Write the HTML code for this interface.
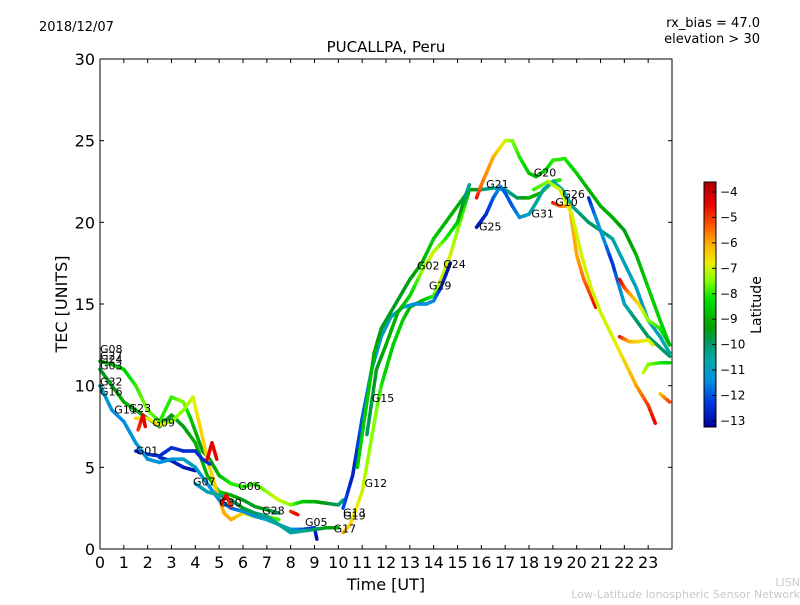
<!DOCTYPE html>
<html><head><meta charset="utf-8"><style>
body{margin:0;background:#fff;width:800px;height:600px;overflow:hidden;font-family:"Liberation Sans","DejaVu Sans",sans-serif}
svg text{font-family:"DejaVu Sans","Liberation Sans",sans-serif}
</style></head><body>
<svg id="chart" width="800" height="600" xmlns="http://www.w3.org/2000/svg">
<defs>
<linearGradient id="cbg" x1="0" y1="0" x2="0" y2="1">
<stop offset="0" stop-color="#a80000"/><stop offset="0.09" stop-color="#e80000"/><stop offset="0.18" stop-color="#ff5a00"/><stop offset="0.25" stop-color="#ffaa00"/><stop offset="0.33" stop-color="#eeee00"/><stop offset="0.40" stop-color="#88ff00"/><stop offset="0.48" stop-color="#00e000"/><stop offset="0.59" stop-color="#00a000"/><stop offset="0.66" stop-color="#009966"/><stop offset="0.73" stop-color="#00aaaa"/><stop offset="0.81" stop-color="#0090dd"/><stop offset="0.89" stop-color="#0040e0"/><stop offset="1" stop-color="#0000a0"/>
</linearGradient></defs>
<text x="39" y="31" font-size="13">2018/12/07</text>
<text x="760" y="27" font-size="13" text-anchor="end">rx_bias = 47.0</text>
<text x="760" y="43" font-size="13" text-anchor="end">elevation &gt; 30</text>
<text x="386" y="52" font-size="15" text-anchor="middle">PUCALLPA, Peru</text>
<g id="plot"></g>
<rect x="100" y="59" width="572" height="490" fill="none" stroke="#000" stroke-width="1"/>
<g id="axes"></g>
<text x="386" y="590" font-size="16" text-anchor="middle">Time [UT]</text>
<text transform="translate(67,304) rotate(-90)" font-size="16" text-anchor="middle">TEC [UNITS]</text>
<rect x="704" y="182" width="12" height="245" fill="url(#cbg)" stroke="#000" stroke-width="1"/>
<g id="cbticks"></g>
<text transform="translate(761,305) rotate(-90)" font-size="14" text-anchor="middle">Latitude</text>
<text x="800" y="586" font-size="11" fill="#c8c8c8" text-anchor="end">LISN</text>
<text x="800" y="598" font-size="11" fill="#c8c8c8" text-anchor="end">Low-Latitude Ionospheric Sensor Network</text>
</svg>
<script>
const xTicks=[0,1,2,3,4,5,6,7,8,9,10,11,12,13,14,15,16,17,18,19,20,21,22,23];
const yTicks=[0,5,10,15,20,25,30];
const cbTicks=[-4,-5,-6,-7,-8,-9,-10,-11,-12,-13];
// satellite traces: [time, tec, latitude]
const trA=[[0,11.5,-9],[0.5,11.3,-9],[1,11,-8.5],[1.5,10,-8],[2,8.5,-7.5],[2.5,7.8,-8],[3,9.3,-8],[3.5,9,-7.5],[3.8,8,-8.5],[4.3,6,-9.5],[4.6,5.5,-9.5],[5,4.5,-9],[5.5,4,-8],[6,3.8,-8],[6.5,4,-8],[7,3.5,-7.5],[7.5,3,-7],[8,2.7,-7.5],[8.5,2.9,-8.5],[9,2.9,-9],[9.5,2.8,-9.5],[10,2.7,-10],[10.2,3,-10.5]];
const trA2=[[0,11,-9.5],[0.5,10,-9.5],[1,9,-9],[1.5,8.5,-9],[2,8,-9.5],[2.5,7.5,-9.5],[3,8.2,-9.5],[3.5,7.5,-9.5],[4,6.5,-9],[4.5,4.5,-9],[5,3.5,-8.5],[5.5,3.3,-9],[6,3,-9.5],[6.5,2.6,-9.5],[7,2.4,-9.5],[7.5,2.2,-10]];
const trB=[[1.5,8,-6.5],[2,8,-7],[2.5,7.6,-6.5],[3,7.8,-7.5],[3.5,8.5,-7.5],[3.9,9.3,-7],[4.2,7.5,-6.5],[4.5,5.5,-6.5],[4.8,4,-6.5],[5.2,2.2,-6],[5.5,1.8,-6],[6,2.2,-6.5],[6.5,2,-7],[7,2,-7.5],[7.5,1.8,-8]];
const trC=[[1.5,6,-12.5],[2,5.8,-12.5],[2.5,5.7,-12.5],[3,6.2,-12.5],[3.5,6,-12.5],[4,6,-12.5],[4.3,5.5,-12.5],[4.6,5.2,-12.5]];
const trC2=[[2.5,5.6,-12.5],[3,5.4,-12.8],[3.5,5,-12.8],[4,4.8,-13]];
const trD=[[0,10,-11],[0.5,8.5,-11.5],[1,7.8,-11.5],[1.5,6.5,-11.5],[2,5.5,-11.5],[2.5,5.3,-11.5],[3,5.5,-11.5],[3.5,5.5,-11],[4,5,-11],[4.5,4,-11.5],[5,3,-11.5],[5.5,2.5,-12],[6,2.3,-11.5],[6.5,2,-11.5],[7,1.8,-11],[7.5,1.5,-11],[8,1.2,-11],[8.5,1.2,-12],[9,1.3,-12.5],[9.1,0.6,-13]];
const trE=[[4,4,-11],[4.5,3.5,-11],[5,3.3,-10.5],[5.5,3,-10],[6,2.5,-9.5],[6.5,2.2,-10],[7,2,-10.5],[7.5,1.5,-10.5],[8,1,-10.5],[8.5,1.1,-10.5],[9,1.2,-10],[9.5,1.3,-9.5],[10,1.3,-9]];
const trF=[[10.2,1,-6],[10.5,1.5,-6.5],[11,3.5,-7],[11.3,6,-7.5],[11.6,8.5,-7.5],[11.8,10,-8],[12,11,-8.5],[12.3,12.5,-8.5],[12.7,14,-8.5],[13,14.8,-9],[13.5,15.2,-9],[14,15.5,-8],[14.3,16.5,-7],[14.7,18,-7],[15,19.5,-7.5],[15.3,21,-8],[15.5,22,-9]];
const trG=[[10.2,2.5,-12],[10.6,4.5,-12.8],[11,8,-12],[11.4,11,-11.5],[11.8,13,-11],[12.2,14.2,-11],[12.7,14.8,-11],[13.2,15,-11.5],[13.7,15,-11.5],[14,15.2,-11.5],[14.3,16,-12.5],[14.7,17.5,-13]];
const trH=[[10.8,5,-8.5],[11.2,9,-8.5],[11.5,12,-9],[11.8,13.5,-9.5],[12.2,14.5,-9.5],[12.6,15.5,-9.5],[13,16.5,-9.5],[13.5,17.5,-9],[14,19,-8.5],[14.5,20,-9],[15,21,-9],[15.5,22,-9],[16,22,-10],[16.5,22.1,-10.5],[17,22,-10.5],[17.5,21.5,-10],[18,21.5,-9],[18.5,21.8,-9],[19,22.5,-8.5],[19.3,22.6,-8]];
const trH2=[[11.2,7,-10],[11.6,11,-9.5],[12,12.5,-9],[12.5,14.5,-9],[13,15.5,-8.5],[13.5,17,-7.5],[14,18.2,-7],[14.5,19,-8],[15,20,-8.5],[15.3,21.5,-10],[15.5,22.3,-10.5]];
const trI=[[15.8,21.5,-4.5],[16,22.3,-5.5],[16.5,24,-6],[17,25,-7],[17.3,25,-7.5],[17.6,24,-8],[18,23,-8.5],[18.3,22.8,-9],[18.7,23.2,-8.5],[19,23.8,-8],[19.5,23.9,-8],[20,23,-8.5],[20.5,22,-9],[21,21,-9],[21.5,20.3,-9],[22,19.5,-9.5],[22.5,18,-9],[23,16,-8.5],[23.5,14,-8.5],[23.9,12.5,-8.5]];
const trJ=[[15.8,19.7,-13],[16.2,20.5,-12.5],[16.5,21.5,-12],[16.8,22.2,-11.5],[17,21.8,-12],[17.3,21,-12],[17.6,20.3,-11.5],[18,20.5,-11],[18.3,21.2,-10.5],[18.6,22,-10.5],[19,22.5,-11],[19.4,22,-11],[19.8,21,-10.5],[20.5,20,-10],[21,19.5,-10],[21.5,19,-10.5],[22,17.5,-11],[22.5,16,-11],[23,14,-11],[23.5,13,-11],[23.9,12,-10.5]];
const trJ2=[[20.5,21.5,-12.5],[21,19.5,-11],[21.5,17.5,-12.5],[22,15,-11],[22.5,14,-10],[23,13,-10],[23.9,11.8,-10]];
const trK=[[19,21.2,-4.5],[19.3,21,-5.5],[19.7,21,-6],[20,18,-6],[20.3,16.5,-5.5],[20.6,15.5,-5],[20.8,14.8,-4.5]];
const trL=[[18.2,22,-8],[18.8,22.5,-7.5],[19.3,22,-7],[19.8,20.5,-7],[20.2,18,-7],[20.6,16,-7],[21,14.5,-7],[21.5,13,-7],[22,11.5,-6.5],[22.5,10,-6],[23,8.8,-5],[23.3,7.7,-4.5]];
const trM=[[21.8,16.5,-4.5],[22,16,-5],[22.3,15.5,-6],[22.6,15,-6.5],[23,14,-7.5],[23.5,13.5,-8],[23.9,12.5,-9]];
const trN=[[21.8,13,-4.5],[22.2,12.7,-6],[22.6,12.7,-6.5],[23,12.8,-7],[23.2,12.5,-7]];
const trO=[[22.8,10.8,-7],[23,11.3,-7.5],[23.5,11.4,-8],[23.9,11.4,-8.5]];
const trP=[[23.5,9.5,-6.5],[23.9,9,-5]];
const trQ=[[8,2.3,-5],[8.3,2.1,-4.5]];
const trR=[[1.6,7.3,-5],[1.8,8.2,-4.5],[1.9,7.5,-4.5]];
const trS=[[4.5,5.5,-4.5],[4.7,6.5,-4.5],[4.9,5.5,-4.5]];
const trT=[[5.1,2.8,-4.5],[5.3,3.3,-4.5],[5.5,2.6,-5]];
const traces=[trA,trA2,trB,trC,trC2,trD,trE,trF,trG,trH,trH2,trI,trJ,trJ2,trK,trL,trM,trN,trO,trP,trQ,trR,trS,trT];
const labelNames=["G08","G27","G24","G03","G32","G16","G11","G23","G09","G01","G07","G30","G06","G28","G05","G17","G13","G19","G12","G15","G02","G24","G29","G21","G25","G20","G31","G26","G10"];
const labelT=[0,0,0,0,0,0,0.6,1.2,2.2,1.5,3.9,5.0,5.8,6.8,8.6,9.8,10.2,10.2,11.1,11.4,13.3,14.4,13.8,16.2,15.9,18.2,18.1,19.4,19.1];
const labelV=[12,11.6,11.4,11,10,9.4,8.3,8.4,7.5,5.8,3.9,2.6,3.6,2.1,1.4,1,2,1.8,3.8,9,17.1,17.2,15.9,22.1,19.5,22.8,20.3,21.5,21];
const stops=[[-3.6,[168,0,0]],[-4.5,[232,0,0]],[-5.3,[255,90,0]],[-6,[255,170,0]],[-6.8,[238,238,0]],[-7.5,[136,255,0]],[-8.2,[0,224,0]],[-9.3,[0,160,0]],[-10,[0,153,102]],[-10.7,[0,170,170]],[-11.5,[0,144,221]],[-12.2,[0,64,224]],[-13.3,[0,0,160]]];
function col(l){for(let i=0;i<stops.length-1;i++){const a=stops[i],b=stops[i+1];if(l<=a[0]&&l>=b[0]){const f=(a[0]-l)/(a[0]-b[0]);const c=a[1].map((v,k)=>Math.round(v+(b[1][k]-v)*f));return `rgb(${c})`;}}return l>-3.6?'rgb(168,0,0)':'rgb(0,0,160)';}
const X=t=>100+t*572/24, Y=v=>549-v*490/30, CY=l=>192+(-4-l)*25.44;
const NS='http://www.w3.org/2000/svg';
function mk(tag,attrs,parent){const e=document.createElementNS(NS,tag);for(const k in attrs)e.setAttribute(k,attrs[k]);parent.appendChild(e);return e;}
const plot=document.getElementById('plot'),axes=document.getElementById('axes'),cb=document.getElementById('cbticks');
traces.forEach((tr,ti)=>{const g=mk('g',{},plot);


for(let i=0;i<tr.length-1;i++){const a=tr[i],b=tr[i+1];const steps=4;for(let s=0;s<steps;s++){const f0=s/steps,f1=(s+1)/steps;const l=a[2]+(b[2]-a[2])*(f0+f1)/2;
mk('line',{x1:X(a[0]+(b[0]-a[0])*f0),y1:Y(a[1]+(b[1]-a[1])*f0),x2:X(a[0]+(b[0]-a[0])*f1),y2:Y(a[1]+(b[1]-a[1])*f1),stroke:col(l),'stroke-width':3.5,'stroke-linecap':'round'},g);}}});
labelNames.forEach((n,i)=>{const t=mk('text',{x:X(labelT[i]),y:Y(labelV[i]),'font-size':11},plot);t.textContent=n;

});
xTicks.forEach(t=>{const x=X(t);
const tk=mk('line',{x1:x,y1:549,x2:x,y2:545,stroke:'#000'},axes);


mk('line',{x1:x,y1:59,x2:x,y2:63,stroke:'#000'},axes);
const l=mk('text',{x:x,y:568,'font-size':16,'text-anchor':'middle'},axes);l.textContent=t;

});
yTicks.forEach(v=>{const y=Y(v);
const tk=mk('line',{x1:100,y1:y,x2:104,y2:y,stroke:'#000'},axes);


mk('line',{x1:672,y1:y,x2:668,y2:y,stroke:'#000'},axes);
const l=mk('text',{x:95,y:y+6,'font-size':16,'text-anchor':'end'},axes);l.textContent=v;

});
cbTicks.forEach(v=>{const y=CY(v);
mk('line',{x1:712,y1:y,x2:716,y2:y,stroke:'#000'},cb);
const l=mk('text',{x:720,y:y+4,'font-size':12},cb);l.textContent='\u2212'+Math.abs(v);

});
</script>
</body></html>
